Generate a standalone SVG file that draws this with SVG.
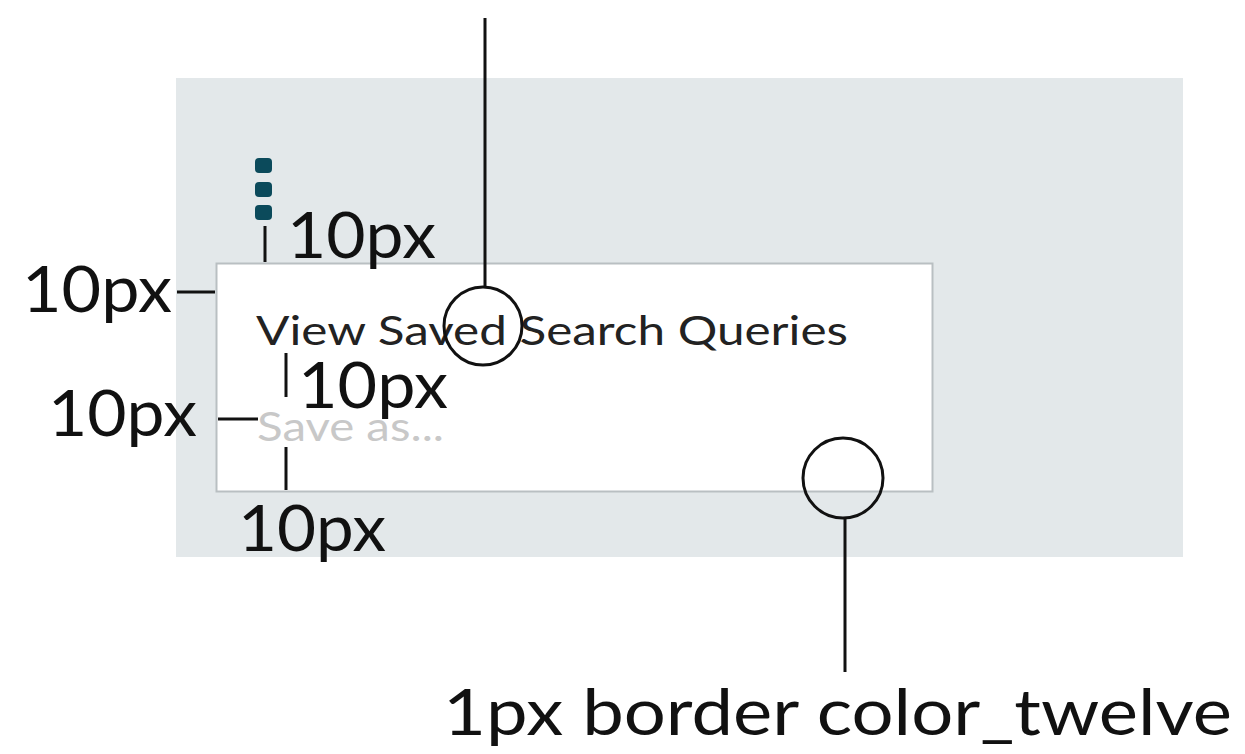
<svg xmlns="http://www.w3.org/2000/svg" width="1245" height="754" viewBox="0 0 1245 754">
<style>
.lbl{font-family:"Lato","Open Sans",sans-serif;font-size:64px;fill:#111}
.ui{font-family:"Lato","Open Sans",sans-serif;font-size:40px}
.ln{stroke:#111;stroke-width:3;fill:none}
.dot{fill:#0b4a5b}
</style>
<rect width="1245" height="754" fill="#fff"/>
<g id="panel">
<rect x="176" y="78" width="1007" height="479" fill="#e3e8ea"/>
</g>
<g id="menu-icon">
<rect class="dot" x="255" y="158" width="17" height="15" rx="4"/>
<rect class="dot" x="255" y="182" width="17" height="15" rx="4"/>
<rect class="dot" x="255" y="205" width="17" height="15" rx="4"/>
</g>
<g id="dropdown">
<rect x="216.5" y="263.5" width="716" height="228" fill="#fff" stroke="#b9bfc2" stroke-width="2"/>
<text class="ui" x="256" y="345" fill="#222" textLength="592" lengthAdjust="spacingAndGlyphs">View Saved Search Queries</text>
<text class="ui" x="257" y="441" fill="#c8c8c8" textLength="187" lengthAdjust="spacingAndGlyphs">Save as...</text>
</g>
<g id="connectors">
<line class="ln" x1="265" y1="226" x2="265" y2="262"/>
<line class="ln" x1="177" y1="292" x2="215" y2="292"/>
<line class="ln" x1="286" y1="353" x2="286" y2="397"/>
<line class="ln" x1="218" y1="419" x2="258" y2="419"/>
<line class="ln" x1="286" y1="447" x2="286" y2="490"/>
<line class="ln" x1="485" y1="18" x2="485" y2="287"/>
<circle class="ln" cx="483" cy="326" r="39"/>
<circle class="ln" cx="843" cy="478" r="40"/>
<line class="ln" x1="845" y1="518" x2="845" y2="672"/>
</g>
<g id="labels">
<text class="lbl" x="287" y="258" textLength="149" lengthAdjust="spacingAndGlyphs">10px</text>
<text class="lbl" x="22" y="312" textLength="150" lengthAdjust="spacingAndGlyphs">10px</text>
<text class="lbl" x="298" y="408" textLength="150" lengthAdjust="spacingAndGlyphs">10px</text>
<text class="lbl" x="48" y="436" textLength="149" lengthAdjust="spacingAndGlyphs">10px</text>
<text class="lbl" x="238" y="551" textLength="148" lengthAdjust="spacingAndGlyphs">10px</text>
<text class="lbl" x="443" y="735" textLength="789" lengthAdjust="spacingAndGlyphs">1px border color_twelve</text>
</g>
</svg>
